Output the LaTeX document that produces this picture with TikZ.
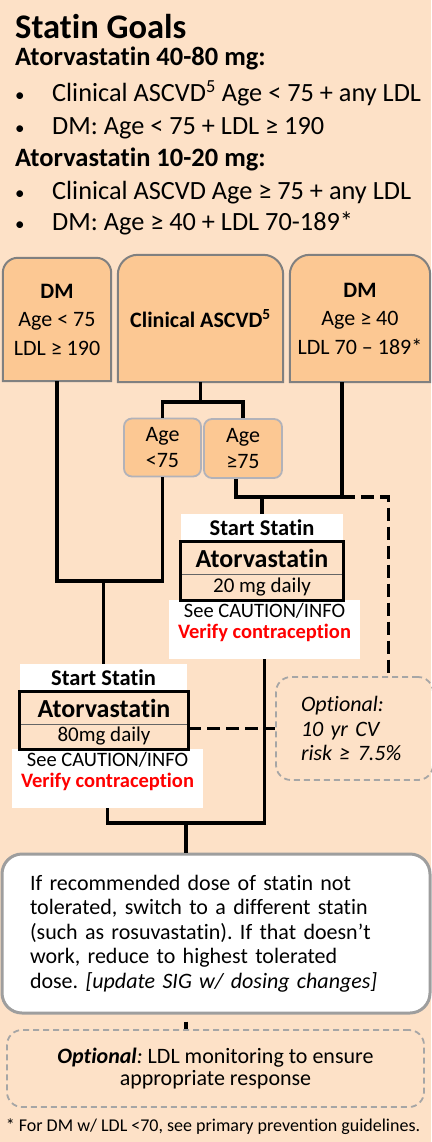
\documentclass[tikz,border=0pt]{standalone}
\usepackage{fontspec}
\setmainfont{Carlito}[Ligatures=NoCommon]
\usepackage{tikz}
\usetikzlibrary{calc,backgrounds}
\usepackage{xcolor}
\definecolor{peach}{HTML}{FDE1C7}
\definecolor{tabfill}{HTML}{FCC893}
\colorlet{tabedge}{black!50}
\colorlet{ageedge}{blue!8!black!30}
\colorlet{optedge}{black!35}
\colorlet{warnred}{red}
\frenchspacing
\newcommand{\dotmark}{\makebox[37pt][l]{\fontsize{19}{19}\selectfont•}}
\tikzstyle{headline}=[anchor=base west,inner sep=0pt,font=\fontsize{26.5}{26.5}\bfseries\selectfont]
\tikzstyle{bulletline}=[anchor=base west,inner sep=0pt,font=\fontsize{26.3}{26.3}\selectfont]
\tikzstyle{tab}=[minimum height=125pt,inner sep=0pt,align=center,font=\fontsize{22}{28.5}\selectfont]
\tikzstyle{agebox}=[draw=ageedge,line width=1.8pt,fill=tabfill,rounded corners=8pt,minimum width=77pt,minimum height=58pt,inner sep=0pt,align=center,font=\fontsize{22}{26}\selectfont]
\tikzstyle{startlbl}=[fill=white,minimum height=28pt,inner sep=0pt,font=\fontsize{22.5}{22.5}\bfseries\selectfont]
\tikzstyle{drugname}=[minimum height=32pt,inner sep=0pt,font=\fontsize{26}{26}\bfseries\selectfont]
\tikzstyle{dose}=[minimum height=26pt,inner sep=0pt,font=\fontsize{21}{21}\selectfont]
\tikzstyle{notebox}=[fill=white,minimum width=191pt,minimum height=59pt,inner sep=0pt]
\tikzstyle{caution}=[inner sep=0pt,align=center,font=\fontsize{20.5}{21}\selectfont]
\tikzstyle{frame}=[line width=3pt]
\tikzstyle{divider}=[line width=1.2pt,black!60]
\tikzstyle{optbox}=[draw=optedge,line width=1.8pt,dash pattern=on 6pt off 4pt,rounded corners=15pt,inner sep=0pt]
\tikzstyle{link}=[line width=3.5pt]
\tikzstyle{optlink}=[link,dash pattern=on 13pt off 6pt]
\newcommand{\tabshape}[2]{%
  \draw[tabedge,line width=2pt,fill=tabfill] (#1.south west) -- ($(#1.north west)+(0,#2)$)
    arc[start angle=180,end angle=270,radius=#2] -- ($(#1.north east)-(#2,0)$)
    arc[start angle=270,end angle=360,radius=#2] -- (#1.south east) -- cycle;}

\begin{document}
\begin{tikzpicture}[x=1pt,y=-1pt,line cap=butt]
  \useasboundingbox (0,0) rectangle (431,1142);

  % goals
  \node[anchor=base west,inner sep=0pt,font=\fontsize{34.5}{34.5}\bfseries\selectfont] (title) at (15,39) {Statin Goals};
  \node[headline] (headHi) at (15,65.5) {Atorvastatin 40-80 mg:};
  \node[bulletline] (hiA) at (15,102) {\dotmark Clinical ASCVD\textsuperscript{5} Age < 75 + any LDL};
  \node[bulletline] (hiB) at (15,135) {\dotmark DM: Age < 75 + LDL ≥ 190};
  \node[headline] (headLo) at (15,167) {Atorvastatin 10-20 mg:};
  \node[bulletline] (loA) at (15,200) {\dotmark Clinical ASCVD Age ≥ 75 + any LDL};
  \node[bulletline] (loB) at (15,230) {\dotmark DM: Age ≥ 40 + LDL 70-189*};

  % groups
  \node[tab,minimum width=108pt,minimum height=123pt] (dmL) at (57,319.5) {\textbf{DM}\\Age < 75\\LDL ≥ 190};
  \node[tab,minimum width=165pt,minimum height=127pt] (ascvd) at (200.5,318.5) {\textbf{Clinical ASCVD\textsuperscript{5}}};
  \node[tab,minimum width=140pt,minimum height=127pt] (dmR) at (360,318.5) {\textbf{DM}\\Age ≥ 40\\LDL 70 – 189*};
  \node[agebox] (ageLo) at (162.5,447.5) {Age\\<75};
  \node[agebox,minimum width=78pt,minimum height=59pt] (ageHi) at (243,448.5) {Age\\≥75};

  % 20 mg
  \node[startlbl,minimum width=162pt] (startR) at (262,528) {Start Statin};
  \node[notebox] (noteR) at (264.5,629.5) {};
  \node[caution] (cautionR) at (264.5,622.5) {See CAUTION/INFO\\\textcolor{warnred}{\bfseries Verify contraception}};
  \node[drugname,minimum width=162pt] (drugR) at (262,558) {Atorvastatin};
  \node[dose,minimum width=162pt] (doseR) at (262,587) {20 mg daily};
  \draw[divider] (drugR.south west) -- (drugR.south east);
  \draw[frame] (drugR.north west) rectangle (doseR.south east);

  % 80 mg
  \node[startlbl,minimum width=167pt] (startL) at (103.5,678) {Start Statin};
  \node[notebox] (noteL) at (107.5,778.5) {};
  \node[caution] (cautionL) at (107.5,771) {See CAUTION/INFO\\\textcolor{warnred}{\bfseries Verify contraception}};
  \node[drugname,minimum width=168pt] (drugL) at (104,708) {Atorvastatin};
  \node[dose,minimum width=168pt,minimum height=25pt] (doseL) at (104,736.5) {80mg daily};
  \draw[divider] (drugL.south west) -- (drugL.south east);
  \draw[frame] (drugL.north west) rectangle (doseL.south east);

  \node[optbox,minimum width=157pt,minimum height=103pt,text width=107pt,align=left,
    font=\fontsize{22}{24.5}\itshape\selectfont] (optA) at (354.5,728.5) {Optional:\\10 yr CV\\risk ≥ 7.5\%};

  \node[draw=black!38,line width=3pt,fill=white,rounded corners=20pt,minimum width=428pt,minimum height=159pt,
    text width=372pt,align=left,font=\fontsize{22}{24.5}\selectfont] (adv) at (216,933.5)
    {If recommended dose of statin not\\tolerated, switch to a different statin\\(such as rosuvastatin). If that doesn’t\\work, reduce to highest tolerated\\dose. \textit{[update SIG w/ dosing changes]}};
  \node[optbox,minimum width=417pt,minimum height=77pt,align=center,font=\fontsize{22}{22.5}\selectfont] (optB) at (215.5,1068.5)
    {\textbf{\textit{Optional}}\textit{:} LDL monitoring to ensure\\appropriate response};
  \node[inner sep=0pt,font=\fontsize{18}{18}\selectfont] (foot) at (213,1127) {* For DM w/ LDL <70, see primary prevention guidelines.};

  % connectors
  \coordinate (joinL) at (startL.north |- 0,581);
  \draw[link] (dmL.south) |- (joinL) -| (ageLo.south);
  \draw[link] (joinL) -- (startL.north);
  \draw[link] (ascvd.south) -- ++(0,20) coordinate (splitA);
  \draw[link] (ageLo.north) |- (splitA) -| (ageHi.north);
  \coordinate (joinR) at (startR.north |- 0,497);
  \coordinate (dropR) at ([xshift=-18pt]dmR.south);
  \draw[link] ([xshift=-7pt]ageHi.south) |- (joinR) -- (joinR -| dropR) -- (dropR);
  \draw[link] (joinR) -- (startR.north);
  \draw[optlink] (joinR -| dropR) -| ([xshift=34pt]optA.north);
  \coordinate (joinB) at (186,823);
  \draw[link] (noteR.south) |- (joinB) -| (noteL.south);
  \draw[link] (joinB) -- (joinB |- adv.north);
  \draw[optlink] (doseL.east |- optA.west) -- (optA.west);
  \draw[link,shorten <=7pt] (joinB |- adv.south) -- (joinB |- optB.north);

  \begin{pgfonlayer}{background}
    \fill[peach] (0,0) rectangle (431,1142);
    \tabshape{dmL}{15}
    \tabshape{ascvd}{20}
    \tabshape{dmR}{20}
  \end{pgfonlayer}
\end{tikzpicture}
\end{document}
